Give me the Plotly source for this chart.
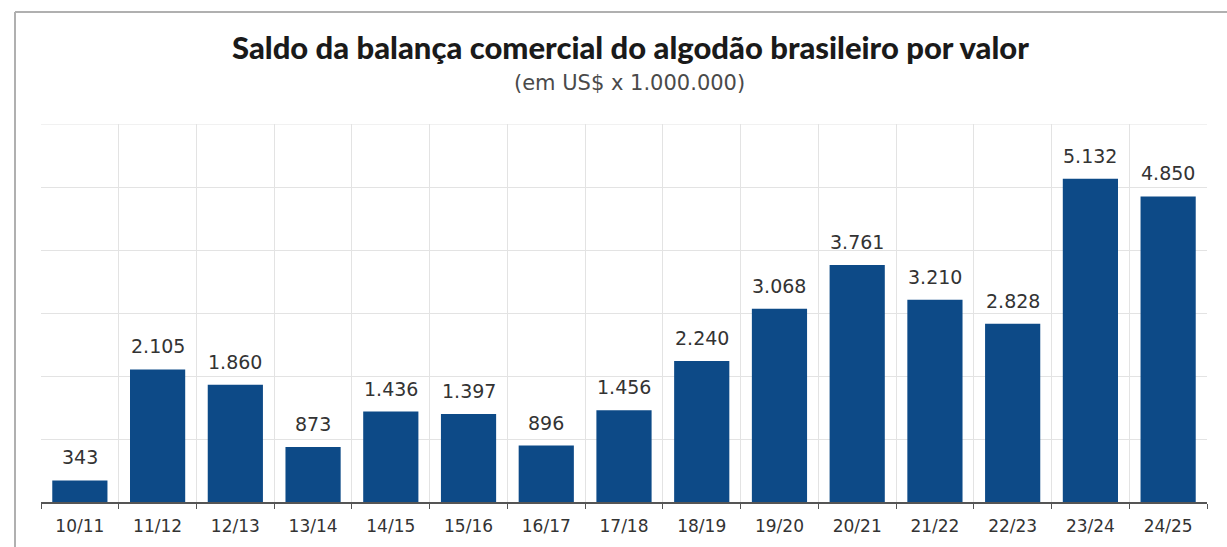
import plotly.graph_objects as go

# Safras (season) labels and trade balance in US$ millions
safras = ["10/11", "11/12", "12/13", "13/14", "14/15", "15/16", "16/17", "17/18",
          "18/19", "19/20", "20/21", "21/22", "22/23", "23/24", "24/25"]
saldo = [343, 2105, 1860, 873, 1436, 1397, 896, 1456,
         2240, 3068, 3761, 3210, 2828, 5132, 4850]

W, H = 1227, 547
ML, MR, MT, MB = 41, 20, 124, 45
BAR_COLOR = "#0d4a87"
LABEL_FONT = "DejaVu Sans, Verdana, sans-serif"
GRID = "#e3e3e3"


def fmt_br(v):
    return f"{v:,}".replace(",", ".")


fig = go.Figure(
    go.Bar(
        x=safras,
        y=saldo,
        marker=dict(color=BAR_COLOR, line=dict(width=0)),
        hoverinfo="x+y",
    )
)

# value labels above each bar
for s, v in zip(safras, saldo):
    fig.add_annotation(
        x=s, y=v, text=fmt_br(v), showarrow=False,
        yanchor="middle", yshift=23,
        font=dict(family=LABEL_FONT, size=19, color="#333333"),
    )

px_x = lambda px: (px - ML) / (W - ML - MR)
px_y = lambda py: (H - MB - py) / (H - MT - MB)

# title and subtitle
fig.add_annotation(
    x=px_x(630), y=px_y(47),
    xref="paper", yref="paper", xanchor="center", yanchor="middle",
    text="Saldo da balança comercial do algodão brasileiro por valor",
    showarrow=False,
    font=dict(family="Lato, Roboto, Arial, sans-serif", size=31, weight=900, color="#1a1a1a"),
)
fig.add_annotation(
    x=px_x(629), y=px_y(83),
    xref="paper", yref="paper", xanchor="center", yanchor="middle",
    text="(em US$ x 1.000.000)",
    showarrow=False,
    font=dict(family=LABEL_FONT, size=21, color="#4a4a4a"),
)

# outer frame (top and left edges)
fig.add_shape(type="line", xref="paper", yref="paper",
              x0=px_x(15), x1=px_x(W + 10), y0=px_y(12), y1=px_y(12),
              line=dict(color="#b0b0b0", width=2))
fig.add_shape(type="line", xref="paper", yref="paper",
              x0=px_x(15), x1=px_x(15), y0=px_y(12), y1=px_y(H + 10),
              line=dict(color="#b0b0b0", width=2))
# top grid line at the upper end of the value range
fig.add_shape(type="line", xref="paper", yref="y", layer="below",
              x0=0, x1=1, y0=6000, y1=6000,
              line=dict(color=GRID, width=1))

fig.update_layout(
    width=W, height=H,
    margin=dict(l=ML, r=MR, t=MT, b=MB),
    paper_bgcolor="white",
    plot_bgcolor="white",
    bargap=0.29,
    showlegend=False,
    xaxis=dict(
        type="category",
        tickson="boundaries",
        showgrid=True, gridcolor=GRID, gridwidth=1,
        ticks="outside", ticklen=5, tickcolor="#555555",
        showline=True, linecolor="#555555", linewidth=1.5,
        tickfont=dict(family=LABEL_FONT, size=17, color="#333333"),
        ticklabelstandoff=8,
        fixedrange=True,
    ),
    yaxis=dict(
        range=[0, 6000],
        tickvals=[1000, 2000, 3000, 4000, 5000, 6000],
        showgrid=True, gridcolor=GRID, gridwidth=1,
        showticklabels=False,
        zeroline=False,
        fixedrange=True,
    ),
)

fig.write_html("out.html")
